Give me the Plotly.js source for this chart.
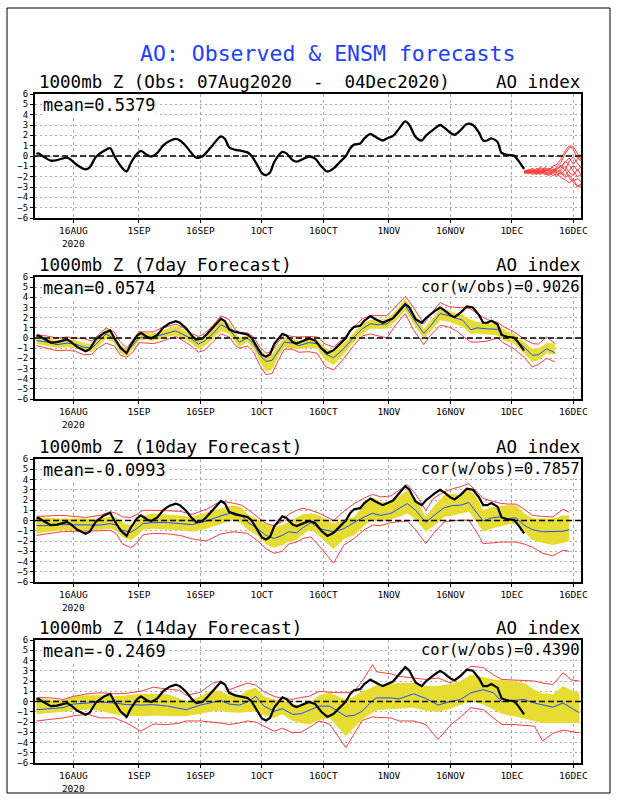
<!DOCTYPE html>
<html><head><meta charset="utf-8">
<script src="https://cdn.plot.ly/plotly-3.0.1.min.js"></script>
<style>html,body{margin:0;padding:0;background:#fff}#chart{width:618px;height:800px}</style>
</head><body><div id="chart"></div>
<script>
// ---------- tick labels ----------
const tickDates = ['2020-08-16','2020-09-01','2020-09-16','2020-10-01','2020-10-16','2020-11-01','2020-11-16','2020-12-01','2020-12-16'];
const tickLabels = ['16AUG<br>2020','1SEP','16SEP','1OCT','16OCT','1NOV','16NOV','1DEC','16DEC'];
const yTicks = [-6,-5,-4,-3,-2,-1,0,1,2,3,4,5,6];

// ---------- observed AO ----------
const obsDates = ['2020-08-07','2020-08-07 12:00','2020-08-08 12:00','2020-08-10 12:00','2020-08-12','2020-08-14 12:00','2020-08-15 12:00','2020-08-17','2020-08-19','2020-08-20','2020-08-21 12:00','2020-08-23 12:00','2020-08-25','2020-08-26','2020-08-27 12:00','2020-08-29','2020-08-30','2020-08-31 12:00','2020-09-01 12:00','2020-09-03','2020-09-04','2020-09-05 12:00','2020-09-07','2020-09-08 12:00','2020-09-10','2020-09-11','2020-09-12 12:00','2020-09-14','2020-09-15','2020-09-16 12:00','2020-09-17 12:00','2020-09-19','2020-09-21','2020-09-22','2020-09-23','2020-09-24 12:00','2020-09-26','2020-09-27 12:00','2020-09-28 12:00','2020-09-30','2020-10-01','2020-10-02','2020-10-03','2020-10-04','2020-10-06','2020-10-07','2020-10-08 12:00','2020-10-09 12:00','2020-10-11','2020-10-12 12:00','2020-10-14','2020-10-15 12:00','2020-10-17','2020-10-18 12:00','2020-10-20','2020-10-21 12:00','2020-10-22 12:00','2020-10-23 12:00','2020-10-25','2020-10-26','2020-10-27 12:00','2020-10-28 12:00','2020-10-30 12:00','2020-10-31 12:00','2020-11-02','2020-11-03 12:00','2020-11-05','2020-11-06','2020-11-07 12:00','2020-11-09','2020-11-10','2020-11-12','2020-11-13 12:00','2020-11-14 12:00','2020-11-16','2020-11-17','2020-11-18 12:00','2020-11-20','2020-11-21 12:00','2020-11-23','2020-11-24','2020-11-25','2020-11-26','2020-11-27 12:00','2020-11-28 12:00','2020-11-30','2020-12-01 12:00','2020-12-02 12:00','2020-12-04'];
const obsValues = [0.2,0.25,0.0,-0.45,-0.4,-0.15,-0.4,-0.9,-1.3,-1.1,-0.1,0.5,0.75,0.0,-0.95,-1.5,-0.7,0.2,0.5,0.1,-0.05,0.3,1.05,1.45,1.65,1.5,0.95,0.2,-0.15,-0.05,0.35,1.05,1.9,1.65,0.85,0.6,0.5,0.35,0.0,-0.95,-1.65,-1.85,-1.6,-0.6,0.4,0.25,-0.4,-0.55,-0.3,-0.05,-0.25,-1.0,-1.5,-1.2,-0.6,0.0,0.7,1.1,1.2,1.7,2.15,1.9,1.5,1.7,1.95,2.65,3.35,3.0,1.85,1.5,1.95,2.6,3.0,2.75,2.25,2.05,2.5,3.1,3.0,2.25,1.5,1.5,1.7,1.35,0.3,0.1,0.05,-0.4,-1.25];

// ---------- panel 1 ensemble members (04-18 Dec) ----------
const ensDates = ['2020-12-04','2020-12-05','2020-12-06','2020-12-07','2020-12-08','2020-12-09','2020-12-10','2020-12-11','2020-12-12','2020-12-13','2020-12-14','2020-12-15','2020-12-16','2020-12-17','2020-12-18'];
const ensM01 = [-1.5,-1.3,-1.6,-1.2,-1.5,-1.1,-1.4,-1.0,-0.8,-0.3,0.5,1.0,0.6,-0.2,-0.5];
const ensM02 = [-1.6,-1.4,-1.2,-1.5,-1.3,-1.6,-1.2,-1.5,-1.1,-0.6,0.2,0.8,0.9,0.3,-0.4];
const ensM03 = [-1.5,-1.7,-1.4,-1.6,-1.8,-1.5,-1.7,-1.3,-1.6,-1.2,-0.5,-0.9,-1.5,-2.0,-1.8];
const ensM04 = [-1.6,-1.5,-1.7,-1.4,-1.6,-1.3,-1.5,-1.7,-1.4,-1.8,-1.3,-2.1,-2.6,-2.9,-2.7];
const ensM05 = [-1.4,-1.6,-1.5,-1.8,-1.4,-1.7,-1.9,-1.6,-2.0,-1.5,-1.9,-1.4,-0.9,-1.4,-1.0];
const ensM06 = [-1.5,-1.4,-1.6,-1.3,-1.1,-1.4,-1.2,-1.6,-1.3,-1.0,-0.6,-0.2,-0.8,-0.3,0.2];
const ensM07 = [-1.7,-1.5,-1.8,-1.6,-1.5,-1.8,-1.6,-1.9,-1.7,-2.1,-2.3,-2.6,-2.2,-3.0,-2.9];
const ensM08 = [-1.5,-1.6,-1.4,-1.5,-1.7,-1.4,-1.3,-1.1,-1.5,-1.4,-1.0,-1.6,-1.9,-1.3,-1.9];
const ensM09 = [-1.6,-1.5,-1.3,-1.4,-1.2,-1.5,-1.8,-1.4,-1.2,-0.9,-1.4,-0.5,-0.1,-0.7,-1.2];
const ensM10 = [-1.5,-1.7,-1.5,-1.7,-1.6,-1.2,-1.5,-1.3,-1.8,-1.6,-2.1,-1.8,-2.4,-2.2,-2.5];

// ---------- 7-day forecast ----------
const f7Dates = ['2020-08-07','2020-08-09 12:00','2020-08-12','2020-08-14 12:00','2020-08-16 12:00','2020-08-18 12:00','2020-08-20 12:00','2020-08-22','2020-08-24','2020-08-26','2020-08-27 12:00','2020-08-29','2020-08-30 12:00','2020-09-01','2020-09-03','2020-09-04 12:00','2020-09-06','2020-09-08','2020-09-10','2020-09-11 12:00','2020-09-13 12:00','2020-09-15 12:00','2020-09-17','2020-09-19','2020-09-21','2020-09-23','2020-09-24 12:00','2020-09-25 12:00','2020-09-27 12:00','2020-09-29','2020-09-30 12:00','2020-10-02','2020-10-03 12:00','2020-10-05','2020-10-06 12:00','2020-10-08 12:00','2020-10-10','2020-10-12 12:00','2020-10-14 12:00','2020-10-16 12:00','2020-10-18 12:00','2020-10-21','2020-10-23 12:00','2020-10-25 12:00','2020-10-27 12:00','2020-10-29 12:00','2020-10-31 12:00','2020-11-02 12:00','2020-11-05','2020-11-07','2020-11-09 12:00','2020-11-11','2020-11-13 12:00','2020-11-15 12:00','2020-11-17 12:00','2020-11-19','2020-11-21','2020-11-22 12:00','2020-11-25','2020-11-27 12:00','2020-11-29','2020-12-01 12:00','2020-12-04','2020-12-06','2020-12-07 12:00','2020-12-09 12:00','2020-12-11 12:00'];
const f7Mean = [-0.25,-0.4,-0.65,-0.5,-0.6,-0.9,-1.0,-0.4,0.4,-0.1,-1.1,-1.4,-0.75,0,0.15,0.05,0.25,0.5,0.7,0.4,0,-0.6,-0.3,0.4,1.3,0.9,0.05,-0.4,0,-0.6,-1.7,-2.3,-2.2,-1.25,-0.4,-0.5,-0.75,-0.45,-0.55,-1.55,-1.95,-1.05,0.1,0.9,1.4,1.3,1.4,2.05,3.2,1.9,0.45,1.1,2.4,2.2,1.9,1.75,0.8,1.0,0.9,0.85,0.25,0,-0.9,-1.7,-1.65,-1.05,-1.45];
const f7BandLo = [-0.6,-0.75,-0.95,-0.9,-1.0,-1.3,-1.4,-0.8,-0.1,-0.5,-1.5,-1.8,-1.1,-0.25,-0.2,-0.3,-0.1,0.15,0.25,0.05,-0.4,-1.1,-0.8,-0.1,0.7,0.4,-0.4,-0.9,-0.4,-1.1,-2.3,-3.3,-3.1,-1.8,-0.9,-1.0,-1.1,-0.95,-1.05,-2.2,-2.65,-1.6,-0.4,0.4,0.9,0.9,0.9,1.6,2.7,1.4,-0.05,0.6,1.75,1.6,1.3,1.1,0.4,0.45,0.35,0.25,-0.25,-0.55,-1.5,-2.35,-2.2,-1.5,-1.65];
const f7BandHi = [0.15,0.0,-0.2,-0.1,-0.2,-0.5,-0.6,0.0,0.9,0.3,-0.7,-1.1,-0.35,0.55,0.5,0.45,0.65,0.95,1.2,0.9,0.35,-0.1,0.1,0.9,2.0,1.4,0.5,0.05,0.3,-0.2,-1.1,-1.7,-1.6,-0.7,0.0,-0.05,-0.3,-0.05,-0.15,-1.0,-1.35,-0.5,0.6,1.4,1.8,1.8,1.9,2.6,3.85,2.5,0.9,1.6,2.9,2.7,2.4,2.3,1.8,1.6,1.45,1.35,0.8,0.4,-0.4,-1.05,-1.0,-0.5,-0.55];
const f7RedLo = [-0.75,-1.0,-1.25,-1.2,-1.3,-1.65,-1.6,-1.0,-0.5,-0.8,-1.7,-1.9,-1.4,-0.45,-0.5,-0.55,-0.4,-0.1,0.15,-0.2,-0.7,-1.4,-1.2,-0.4,0.4,0.1,-0.7,-1.0,-0.8,-1.4,-2.7,-3.6,-3.5,-2.2,-1.1,-1.1,-1.4,-1.35,-1.5,-2.8,-3.15,-2.0,-0.7,0.2,0.4,0.2,0.0,1.2,2.4,0.8,-0.65,0.2,1.25,1.1,0.7,0.2,-0.4,-0.4,-0.3,0.0,-0.5,-1.05,-1.9,-2.85,-2.6,-2.0,-2.35];
const f7RedHi = [0.3,0.2,0.0,0.1,0.0,-0.05,-0.3,0.3,1.0,0.55,-0.4,-1.0,-0.2,0.6,0.6,0.6,0.9,1.15,1.35,1.1,0.5,0.15,0.4,1.2,2.2,1.8,0.8,0.55,0.5,0.1,-0.9,-1.5,-1.3,-0.4,0.3,0.15,0.1,0.15,0.1,-0.6,-0.9,0.0,1.0,1.9,2.2,2.2,2.2,3.0,4.1,3.0,1.4,2.2,3.5,3.1,3.0,3.0,2.85,2.4,1.8,1.55,1.1,0.6,-0.1,-0.55,-0.6,0.1,-0.55];

// ---------- 10-day forecast ----------
const f10Dates = ['2020-08-07','2020-08-10','2020-08-13','2020-08-16','2020-08-19','2020-08-22 12:00','2020-08-25','2020-08-26 12:00','2020-08-28','2020-08-30','2020-08-31 12:00','2020-09-02','2020-09-04 12:00','2020-09-08','2020-09-11','2020-09-14','2020-09-17 12:00','2020-09-21','2020-09-24','2020-09-26','2020-09-27 12:00','2020-09-30','2020-10-02','2020-10-04','2020-10-06','2020-10-07 12:00','2020-10-09 12:00','2020-10-11','2020-10-13','2020-10-15','2020-10-18 12:00','2020-10-21','2020-10-23 12:00','2020-10-26','2020-10-28','2020-10-30','2020-11-01 12:00','2020-11-04','2020-11-05 12:00','2020-11-07 12:00','2020-11-10','2020-11-12','2020-11-14 12:00','2020-11-16 12:00','2020-11-18 12:00','2020-11-20 12:00','2020-11-22 12:00','2020-11-24','2020-11-26','2020-11-28','2020-11-30','2020-12-02','2020-12-04','2020-12-06','2020-12-08 12:00','2020-12-11','2020-12-13 12:00','2020-12-15'];
const f10Mean = [-0.5,-0.5,-0.4,-0.4,-0.45,-0.45,-0.3,-0.45,-0.95,-1.15,-0.8,-0.3,-0.2,-0.2,-0.3,-0.4,-0.05,0.45,0.8,0.5,-0.15,-0.8,-1.45,-1.75,-1.45,-1.1,-1.2,-0.7,-0.2,-0.8,-1.1,-0.8,-0.2,0.35,0.7,0.5,0.7,1.25,1.65,1.0,-0.2,0.5,1.25,1.45,1.5,1.75,0.7,-0.05,0.25,0.35,0.2,0.25,-0.45,-0.9,-1.1,-1.1,-1.05,-0.9];
const f10BandLo = [-1.25,-1.1,-0.95,-0.95,-0.95,-0.9,-0.8,-1.0,-1.6,-1.9,-1.5,-0.9,-0.8,-0.85,-0.95,-1.1,-0.8,-0.35,0.05,-0.3,-0.9,-1.5,-2.3,-2.65,-2.4,-2.1,-1.9,-1.3,-0.9,-1.5,-2.8,-1.8,-1.45,-0.5,0.05,-0.1,0.1,0.45,0.7,0.1,-1.1,-0.5,0.35,0.5,0.7,0.85,-0.2,-1.1,-0.8,-0.6,-0.4,-0.3,-1.1,-1.9,-2.2,-2.4,-2.2,-2.0];
const f10BandHi = [0.35,0.25,0.2,0.2,0.2,0.2,0.4,0.3,-0.2,-0.45,-0.1,0.5,0.7,0.55,0.5,0.35,0.8,1.2,1.5,1.3,0.6,0.1,-0.4,-0.6,-0.45,-0.15,0.3,0.6,0.7,0.5,-0.3,0.1,0.35,1.6,2.3,1.8,1.8,2.5,2.95,2.2,0.35,1.4,2.5,2.6,2.5,3.1,2.2,1.0,1.3,1.4,1.5,1.5,0.7,0.2,0.2,0.2,0.5,0.5];
const f10RedLo = [-1.45,-1.3,-1.1,-1.05,-1.05,-1.0,-0.95,-1.3,-2.3,-2.65,-2.2,-1.4,-1.25,-1.3,-1.45,-1.8,-2.0,-1.3,-1.1,-1.15,-1.25,-2.0,-2.75,-3.2,-3.0,-2.3,-2.1,-1.75,-1.6,-2.5,-4.15,-2.4,-1.75,-0.9,-0.45,-0.5,-0.2,-0.1,-0.05,-0.9,-2.25,-1.2,-0.15,0.0,0.0,0.05,-1.2,-2.25,-2.2,-2.1,-2.1,-2.1,-2.3,-2.6,-3.2,-3.45,-2.9,-3.0];
const f10RedHi = [0.4,0.45,0.5,0.4,0.3,0.5,0.85,0.7,0.35,0.3,0.6,1.0,1.0,0.95,0.9,0.6,1.1,1.9,1.7,1.5,1.1,0.3,-0.3,-0.5,-0.1,0.6,1.0,1.2,1.0,0.7,0.0,0.9,1.65,2.2,2.55,2.3,2.4,3.1,3.5,2.6,1.0,2.2,2.8,3.1,3.3,3.6,2.8,2.15,1.9,1.7,1.6,1.6,1.1,0.5,0.4,0.35,1.1,0.8];

// ---------- 14-day forecast ----------
const f14Dates = ['2020-08-07','2020-08-10 12:00','2020-08-13 12:00','2020-08-16','2020-08-19 12:00','2020-08-22 12:00','2020-08-26','2020-08-29','2020-09-01 12:00','2020-09-04 12:00','2020-09-08','2020-09-11','2020-09-12 12:00','2020-09-16','2020-09-19','2020-09-21','2020-09-23','2020-09-25 12:00','2020-09-27 12:00','2020-09-29 12:00','2020-10-01 12:00','2020-10-04','2020-10-06','2020-10-08 12:00','2020-10-10 12:00','2020-10-12 12:00','2020-10-15','2020-10-17 12:00','2020-10-21 12:00','2020-10-23 12:00','2020-10-25 12:00','2020-10-28','2020-10-29','2020-11-01 12:00','2020-11-03 12:00','2020-11-07','2020-11-10','2020-11-13','2020-11-16','2020-11-18 12:00','2020-11-21','2020-11-24','2020-11-26 12:00','2020-11-28 12:00','2020-12-01 12:00','2020-12-04','2020-12-06 12:00','2020-12-08 12:00','2020-12-11','2020-12-13 12:00','2020-12-15 12:00','2020-12-17 12:00'];
const f14Mean = [-0.8,-0.7,-0.6,-0.25,-0.15,-0.05,-0.15,-0.3,-0.35,-0.3,-0.45,-0.7,-0.8,-0.35,-0.05,0.1,-0.25,-0.35,-0.05,0.5,-0.45,-0.95,-0.7,-1.25,-1.2,-0.9,-0.45,-0.45,-1.45,-1.35,-0.95,0.1,0.35,0.35,0.25,0.75,0.3,-0.35,0,0.2,0.85,1.15,0.85,0,0.1,0.2,-0.15,-0.35,-0.55,-0.15,-0.6,-1.1];
const f14BandLo = [-1.25,-1.15,-1.0,-0.85,-0.8,-0.9,-1.25,-1.4,-1.45,-1.4,-1.4,-1.45,-1.45,-1.2,-0.95,-0.9,-1.05,-1.1,-1.0,-0.95,-1.35,-1.6,-1.25,-1.9,-2.1,-2.25,-1.8,-1.6,-3.4,-2.6,-1.75,-1.1,-0.85,-0.75,-0.7,-0.6,-0.9,-1.0,-0.7,-0.3,0.05,-0.3,-0.8,-1.2,-1.45,-1.7,-1.9,-2.1,-2.1,-2.1,-2.1,-2.1];
const f14BandHi = [0.35,0.2,0.1,0.5,0.6,0.6,0.5,0.6,0.75,0.75,0.7,0.3,0.0,0.5,1.15,1.0,0.6,0.5,1.1,1.35,0.5,0.2,0.2,-0.2,-0.45,-0.15,0.6,0.85,0.2,0.5,1.0,1.4,1.6,1.7,1.8,1.8,1.5,1.5,1.7,2.0,2.6,2.4,2.15,2.1,2.0,1.8,1.15,0.8,0.7,1.5,1.1,0.85];
const f14RedLo = [-1.9,-1.75,-1.6,-1.4,-1.25,-1.6,-1.6,-2.1,-2.9,-2.2,-2.25,-2.1,-1.9,-1.9,-2.0,-2.1,-2.25,-2.1,-1.9,-2.0,-2.4,-2.9,-2.6,-3.05,-3.0,-2.55,-1.9,-2.2,-4.5,-3.2,-1.85,-1.5,-1.55,-1.6,-1.9,-1.9,-2.25,-3.7,-2.3,-1.5,-0.6,-0.8,-1.6,-2.25,-2.25,-2.3,-2.4,-3.85,-3.1,-2.8,-2.9,-3.05];
const f14RedHi = [0.4,0.35,0.2,0.5,0.75,0.85,0.75,0.8,1.0,1.4,1.2,1.1,0.6,0.9,1.8,2.0,1.15,1.5,1.8,1.6,0.95,0.5,0.3,0.2,0.4,0.5,1.0,0.9,0.85,1.0,2.0,3.6,2.9,2.7,2.45,2.3,2.15,2.3,1.8,2.6,3.45,3.3,2.6,2.15,2.1,2.0,2.0,1.8,1.65,2.8,2.1,2.0];

// ---------- texts ----------
const mainTitle = 'AO: Observed &amp; ENSM forecasts';
const panelTitles = ['1000mb Z (Obs: 07Aug2020  -  04Dec2020)','1000mb Z (7day Forecast)','1000mb Z (10day Forecast)','1000mb Z (14day Forecast)'];
const panelRight = 'AO index';
const meanTexts = ['mean=0.5379','mean=0.0574','mean=-0.0993','mean=-0.2469'];
const corTexts = [null,'cor(w/obs)=0.9026','cor(w/obs)=0.7857','cor(w/obs)=0.4390'];

// ---------- layout geometry ----------
const W = 618, H = 800;
const FONT = 'DejaVu Sans Mono';
const tops = [94, 277, 459, 640], bots = [218, 399, 582, 763];
const xL = 35, xR = 581;
const YEL = '#e6dc32', RED = '#ff3c3c', BLUE = '#1e50ff';

function ax(i){ return i === 0 ? '' : String(i+1); }
function ln(x, y, i, color, width, shape){
  return {type:'scatter', mode:'lines', x:x, y:y, xaxis:'x'+ax(i), yaxis:'y'+ax(i),
    line:{color:color, width:width, shape:shape||'linear', smoothing:0.8}, hoverinfo:'skip', showlegend:false};
}

const traces = [];
[ensM01,ensM02,ensM03,ensM04,ensM05,ensM06,ensM07,ensM08,ensM09,ensM10].forEach(m => traces.push(ln(ensDates, m, 0, RED, 1)));
traces.push(ln(obsDates, obsValues, 0, '#000', 2.3, 'spline'));

const fc = [
  [f7Dates, f7Mean, f7BandLo, f7BandHi, f7RedLo, f7RedHi],
  [f10Dates, f10Mean, f10BandLo, f10BandHi, f10RedLo, f10RedHi],
  [f14Dates, f14Mean, f14BandLo, f14BandHi, f14RedLo, f14RedHi]
];
fc.forEach((f, k) => {
  const i = k + 1;
  const lo = ln(f[0], f[2], i, YEL, 0); lo.line.width = 0;
  const hi = ln(f[0], f[3], i, YEL, 0); hi.line.width = 0; hi.fill = 'tonexty'; hi.fillcolor = YEL;
  traces.push(lo, hi);
  traces.push(ln(f[0], f[4], i, RED, 1));
  traces.push(ln(f[0], f[5], i, RED, 1));
  traces.push(ln(f[0], f[1], i, BLUE, 1));
  traces.push(ln(obsDates, obsValues, i, '#000', 2.2));
});

const layout = {
  width: W, height: H, margin:{l:0,r:0,t:0,b:0},
  paper_bgcolor:'#fff', plot_bgcolor:'#fff', showlegend:false,
  annotations: [], shapes: []
};

for (let i = 0; i < 4; i++){
  layout['xaxis'+ax(i)] = {
    type:'date', range:['2020-08-06 15:30','2020-12-17 21:00'],
    domain:[xL/W, xR/W], anchor:'y'+ax(i),
    tickmode:'array', tickvals:tickDates, ticktext:tickLabels,
    tickfont:{family:FONT, size:9.5, color:'#000'},
    showgrid:true, gridcolor:'#a8a8a8', gridwidth:1, griddash:'3px,3px',
    showline:true, mirror:true, linecolor:'#000', linewidth:2,
    ticks:'outside', ticklen:3, tickcolor:'#000', zeroline:false, fixedrange:true
  };
  layout['yaxis'+ax(i)] = {
    range:[-6,6], domain:[1-bots[i]/H, 1-tops[i]/H], anchor:'x'+ax(i),
    tickmode:'array', tickvals:yTicks,
    tickfont:{family:FONT, size:9, color:'#000'},
    showgrid:true, gridcolor:'#a8a8a8', gridwidth:1, griddash:'2px,3px',
    showline:true, mirror:true, linecolor:'#000', linewidth:2,
    ticks:'outside', ticklen:3, tickcolor:'#000', zeroline:false, fixedrange:true
  };
  layout.shapes.push({type:'line', xref:'x'+ax(i)+' domain', yref:'y'+ax(i),
    x0:0, x1:1, y0:0, y1:0, line:{color:'#000', width:1.3, dash:'6px,3px'}});
  const subY = 1 - (tops[i] - 12)/H;
  layout.annotations.push({xref:'paper', yref:'paper', x:37/W, y:subY, xanchor:'left', yanchor:'middle',
    text:panelTitles[i], showarrow:false, font:{family:FONT, size:17.5, color:'#000'}});
  layout.annotations.push({xref:'paper', yref:'paper', x:582/W, y:subY, xanchor:'right', yanchor:'middle',
    text:panelRight, showarrow:false, font:{family:FONT, size:17.5, color:'#000'}});
  layout.annotations.push({xref:'paper', yref:'paper', x:42/W, y:1-(tops[i]+11)/H, xanchor:'left', yanchor:'middle',
    text:meanTexts[i], showarrow:false, bgcolor:'#fff', borderpad:0, font:{family:FONT, size:17, color:'#000'}});
  if (corTexts[i]) layout.annotations.push({xref:'paper', yref:'paper', x:581/W, y:1-(tops[i]+10)/H, xanchor:'right', yanchor:'middle',
    text:corTexts[i], showarrow:false, bgcolor:'#fff', borderpad:0, font:{family:FONT, size:15.5, color:'#000'}});
}
layout.annotations.push({xref:'paper', yref:'paper', x:327/W, y:1-53/H, xanchor:'center', yanchor:'middle',
  text:mainTitle, showarrow:false, font:{family:FONT, size:21.5, color:'#2040ff'}});
layout.shapes.push({type:'rect', xref:'paper', yref:'paper', x0:7/W, x1:610/W, y0:1-793/H, y1:1-8/H,
  line:{color:'#000', width:1}, fillcolor:'rgba(0,0,0,0)', layer:'below'});

Plotly.newPlot('chart', traces, layout, {staticPlot:true, displayModeBar:false});
</script>
</body></html>
